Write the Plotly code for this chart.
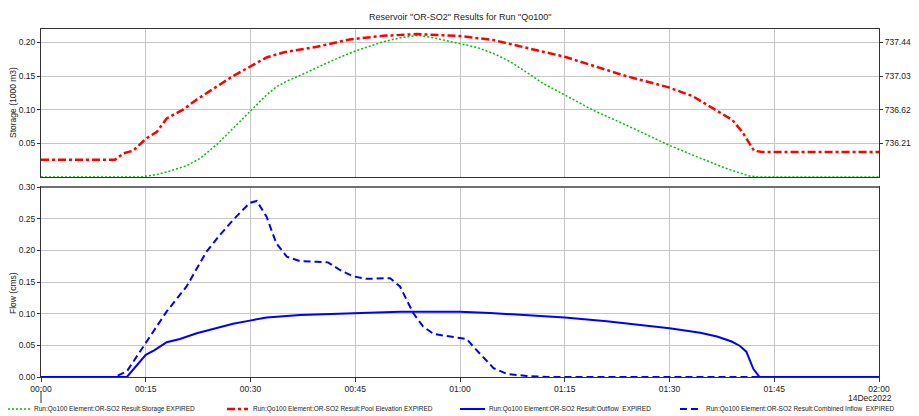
import pandas as pd
import plotly.graph_objects as go

# ---------------- data ----------------
BASE = pd.Timestamp("2022-12-14 00:00")

storage_min = [0, 14.2, 16, 18, 20.85, 22.8, 25.2, 27.5, 29.9, 32.3, 33.7, 35.3, 37.1, 41.9, 45.2, 49.0,
               51.5, 54.0, 56.2, 60, 62.4, 64.8, 67.2, 69.5, 71.9, 75, 79, 83.8, 89.9, 93.3, 98.1,
               101.4, 102.9, 120]
storage_val = [0, 0, 0.0025, 0.0074, 0.0168, 0.0277, 0.0485, 0.0723, 0.0985, 0.122, 0.134, 0.143, 0.151,
               0.174, 0.188, 0.201, 0.207, 0.2105, 0.207, 0.1985, 0.1926, 0.1837, 0.1713, 0.156, 0.139,
               0.122, 0.0995, 0.0772, 0.0475, 0.0327, 0.0129, 0.0015, 0, 0]

elev_min = [0, 10.6, 11.8, 13.2, 15.1, 16.6, 18.0, 20.4, 22.3, 25.2, 27.5, 29.9, 32.3, 34.7, 39.5, 44.2,
            49.0, 53.8, 60, 64.8, 75, 83.8, 89.9, 93.3, 97.1, 99.0, 100.4, 101.4, 102.1, 103.3, 120]
elev_val = [736.011, 736.011, 736.088, 736.121, 736.271, 736.352, 736.514, 736.624, 736.745, 736.899,
            737.03, 737.144, 737.257, 737.318, 737.388, 737.477, 737.521, 737.542, 737.518, 737.469,
            737.265, 737.03, 736.892, 736.786, 736.595, 736.495, 736.352, 736.21, 736.121, 736.104,
            736.104]

inflow_min = [0, 10.6, 12.3, 15, 18, 20.85, 23.7, 25.6, 27.5, 29.9, 30.9, 32.3, 33.7, 35.2, 37.1, 39.5,
              41.1, 42.8, 44.7, 46.6, 50.0, 51.4, 53.3, 54.7, 56.2, 60.0, 60.96, 61.9, 63.4, 64.8, 66.7,
              69.6, 72.4, 120]
inflow_val = [0, 0, 0.009, 0.0536, 0.1035, 0.143, 0.198, 0.224, 0.248, 0.275, 0.278, 0.253, 0.211, 0.190,
              0.183, 0.182, 0.181, 0.169, 0.159, 0.155, 0.156, 0.143, 0.101, 0.080, 0.068, 0.0615, 0.060,
              0.048, 0.030, 0.014, 0.005, 0.0015, 0, 0]

outflow_min = [0, 12.3, 15, 16.2, 18, 19.9, 22.3, 25.2, 27.5, 29.9, 32.3, 37.1, 41.9, 46.6, 51.4, 60,
               64.3, 75, 81, 90, 94.4, 96.8, 98.9, 100.1, 101.0, 102.0, 102.9, 120]
outflow_val = [0, 0, 0.035, 0.042, 0.055, 0.060, 0.069, 0.078, 0.084, 0.089, 0.094, 0.098, 0.100, 0.102,
               0.103, 0.103, 0.101, 0.094, 0.088, 0.077, 0.070, 0.064, 0.056, 0.049, 0.040, 0.013, 0, 0]

storage_ticks = [0.05, 0.10, 0.15, 0.20]
elev_ticks = [736.21, 736.62, 737.03, 737.44]
flow_ticks = [0.00, 0.05, 0.10, 0.15, 0.20, 0.25, 0.30]

legend_labels = [
    "Run:Qo100 Element:OR-SO2 Result:Storage EXPIRED",
    "Run:Qo100 Element:OR-SO2 Result:Pool Elevation EXPIRED",
    "Run:Qo100 Element:OR-SO2 Result:Outflow  EXPIRED",
    "Run:Qo100 Element:OR-SO2 Result:Combined Inflow  EXPIRED",
]
title_text = 'Reservoir "OR-SO2" Results for Run "Qo100"'
date_text = "14Dec2022"


def to_time(mins):
    return [BASE + pd.Timedelta(minutes=m) for m in mins]


# ---------------- figure ----------------
# the page body has an 8px margin, so the figure sits at (8, 8) inside the window
OFF = 8
W, H = 919 - OFF, 416 - OFF
ML, MR, MT, MB = 41 - OFF, 40, 29 - OFF, 39
PW = W - ML - MR
PH = H - MT - MB


def px_x(x):
    """window pixel x -> paper x"""
    return (x - OFF - ML) / PW


def px_y(y):
    """window pixel y -> paper y"""
    return (H - MB - (y - OFF)) / PH


FONT = "Arial, Liberation Sans, sans-serif"
TXT = "#222222"
GRID = "#c6c6c6"

GREEN = "#00c000"
RED = "#ff0000"
BLUE = "#0000ff"
DOT = "2px,2px"
DASHDOT = "8px,3px,3px,3px"
DASH = "7px,4px"

fig = go.Figure()
fig.add_trace(go.Scatter(x=to_time(storage_min), y=storage_val, mode="lines",
                         line=dict(color=GREEN, width=1.5, dash=DOT),
                         xaxis="x", yaxis="y", name=legend_labels[0]))
fig.add_trace(go.Scatter(x=to_time(elev_min), y=elev_val, mode="lines",
                         line=dict(color=RED, width=2.5, dash=DASHDOT),
                         xaxis="x", yaxis="y3", name=legend_labels[1]))
fig.add_trace(go.Scatter(x=to_time(outflow_min), y=outflow_val, mode="lines",
                         line=dict(color=BLUE, width=2),
                         xaxis="x2", yaxis="y2", name=legend_labels[2]))
fig.add_trace(go.Scatter(x=to_time(inflow_min), y=inflow_val, mode="lines",
                         line=dict(color=BLUE, width=2, dash=DASH),
                         xaxis="x2", yaxis="y2", name=legend_labels[3]))

xr = [BASE, BASE + pd.Timedelta(minutes=120)]
top_dom = [px_y(177), 1.0]
bot_dom = [0.0, px_y(187)]

common_x = dict(type="date", range=xr, dtick=15 * 60 * 1000, tick0=BASE,
                showgrid=True, gridcolor=GRID, gridwidth=1, zeroline=False,
                showline=True, linecolor="#333333", linewidth=1, mirror=True)

fig.update_layout(
    width=W, height=H,
    margin=dict(l=ML, r=MR, t=MT, b=MB, autoexpand=False),
    paper_bgcolor="white", plot_bgcolor="white",
    showlegend=False,
    font=dict(family=FONT, size=8.5, color=TXT),
    xaxis=dict(**common_x, anchor="y", showticklabels=False, ticks=""),
    xaxis2=dict(**common_x, anchor="y2", showticklabels=True, ticks="outside",
                ticklen=4, tickcolor="#333333", tickformat="%H:%M",
                tickfont=dict(size=8.5, color=TXT)),
    yaxis=dict(domain=top_dom, range=[0, 0.22], tickvals=storage_ticks,
               ticktext=[f"{v:.2f}" for v in storage_ticks],
               showgrid=True, gridcolor=GRID, zeroline=False,
               showline=True, linecolor="#333333", mirror=True,
               ticks="outside", ticklen=3, tickcolor="#333333",
               tickfont=dict(size=8.5, color=TXT)),
    yaxis3=dict(overlaying="y", side="right", anchor="x",
                range=[735.8, 735.8 + 0.22 * 8.2], tickvals=elev_ticks,
                ticktext=[f"{v:.2f}" for v in elev_ticks],
                showgrid=False, zeroline=False, showline=False,
                ticks="outside", ticklen=3, tickcolor="#333333",
                tickfont=dict(size=8.5, color=TXT)),
    yaxis2=dict(domain=bot_dom, range=[0, 0.30], tickvals=flow_ticks,
                ticktext=[f"{v:.2f}" for v in flow_ticks],
                showgrid=True, gridcolor=GRID, zeroline=False,
                showline=True, linecolor="#333333", mirror=True,
                ticks="outside", ticklen=3, tickcolor="#333333",
                tickfont=dict(size=8.5, color=TXT), anchor="x2"),
)

ann = []
ann.append(dict(text=title_text, x=px_x(460), y=px_y(17), xref="paper", yref="paper",
                showarrow=False, xanchor="center", yanchor="middle",
                font=dict(size=9, color=TXT)))
ann.append(dict(text="Storage (1000 m3)", x=px_x(13), y=px_y(103), xref="paper", yref="paper",
                showarrow=False, textangle=-90, xanchor="center", yanchor="middle",
                font=dict(size=8.5, color=TXT)))
ann.append(dict(text="Flow (cms)", x=px_x(13), y=px_y(293), xref="paper", yref="paper",
                showarrow=False, textangle=-90, xanchor="center", yanchor="middle",
                font=dict(size=8.5, color=TXT)))
ann.append(dict(text="Elev (M)", x=px_x(917), y=px_y(103), xref="paper", yref="paper",
                showarrow=False, textangle=90, xanchor="center", yanchor="middle",
                font=dict(size=8.5, color=TXT)))
ann.append(dict(text=date_text, x=px_x(870), y=px_y(398), xref="paper", yref="paper",
                showarrow=False, xanchor="center", yanchor="middle",
                font=dict(size=8.5, color=TXT)))

shapes = []
# date marker under first tick
shapes.append(dict(type="line", xref="paper", yref="paper", x0=0, x1=0,
                   y0=px_y(391), y1=px_y(403), line=dict(color="#333333", width=1)))
# heavier top border of lower panel
shapes.append(dict(type="line", xref="paper", yref="paper", x0=0, x1=1,
                   y0=px_y(187), y1=px_y(187), line=dict(color="#707070", width=2)))

# legend (manual)
leg_y = px_y(409)
leg_items = [
    (8, 30, 32, GREEN, 1.5, DOT),
    (227, 248, 251, RED, 2.5, DASHDOT),
    (460, 485, 487, BLUE, 2, "solid"),
    (680, 702, 704, BLUE, 2, DASH),
]
for (x0, x1, xt, col, w, d), lab in zip(leg_items, legend_labels):
    shapes.append(dict(type="line", xref="paper", yref="paper", x0=px_x(x0), x1=px_x(x1),
                       y0=leg_y, y1=leg_y, line=dict(color=col, width=w, dash=d)))
    ann.append(dict(text=lab, x=px_x(xt), y=leg_y, xref="paper", yref="paper",
                    showarrow=False, xanchor="left", yanchor="middle",
                    font=dict(size=6.5, color=TXT)))

fig.update_layout(annotations=ann, shapes=shapes)
fig.write_html("out.html")
